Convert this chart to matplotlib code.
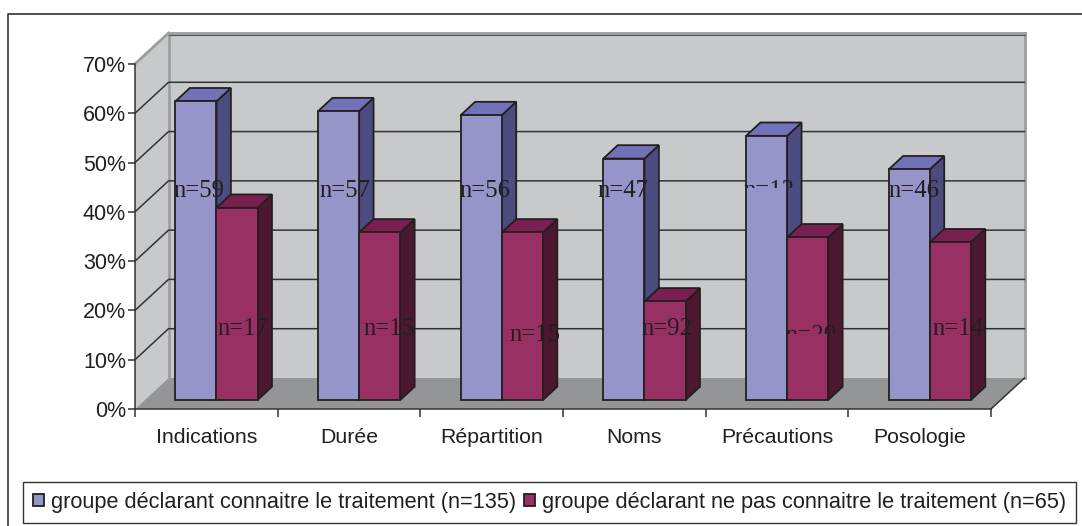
"""
Recreate the 3D-look clustered bar chart (groupe declarant connaitre le traitement).
"""

import matplotlib
matplotlib.use("Agg")
import matplotlib.pyplot as plt
from matplotlib.lines import Line2D
from matplotlib.patches import Patch, Polygon, Rectangle

# =============================================================================
# Data
# =============================================================================

categories = ['Indications', 'Durée', 'Répartition', 'Noms', 'Précautions', 'Posologie']
group_known = [60.6, 58.6, 57.8, 49, 53.6, 46.8]
group_unknown = [39, 34, 34, 20, 33, 32]
labels_known = ['n=59', 'n=57', 'n=56', 'n=47', 'n=12', 'n=46']
labels_unknown = ['n=17', 'n=15', 'n=15', 'n=92', 'n=20', 'n=14']
y_ticks = [0, 10, 20, 30, 40, 50, 60, 70]
legend_known = 'groupe déclarant connaitre le traitement (n=135)'
legend_unknown = 'groupe déclarant ne pas connaitre le traitement (n=65)'

# =============================================================================
# Styling / layout
# =============================================================================

W, H = 1082, 526
# axes box in image pixels (front edge of the floor and the 70% tick)
AX_LEFT, AX_RIGHT, AX_TOP, AX_BOTTOM = 135, 991, 64, 409
PX_X = (AX_RIGHT - AX_LEFT) / len(categories)
PX_Y = (AX_BOTTOM - AX_TOP) / 70

# full oblique depth of the box, in data units
DEPTH_X = 33.5 / PX_X
DEPTH_Y = 31 / PX_Y
# bars occupy this slice of the depth
BAR_D0, BAR_D1 = 0.29, 0.72
BAR_GAP = 0.215
BAR_W = 0.288

WALL = '#c8c9cb'
FLOOR = '#949597'
WALL_EDGE = '#9c9d9f'
DARK = '#231f20'
BLUE = ('#9595c9', '#7272b8', '#4c4c80')
RED = ('#993063', '#7a2050', '#4c1830')

# data label centres in pixels, and the row where a label gets cut off
LABEL_X_KNOWN = [199, 345, 485, 623, 769, 914]
LABEL_Y_KNOWN = [191, 191, 191, 191, 191, 191]
LABEL_X_UNKNOWN = [243, 389, 535, 667, 811, 958]
LABEL_Y_UNKNOWN = [329, 329, 335, 329, 336, 329]
CLIP_KNOWN = [None, None, None, None, 187.5, None]
CLIP_UNKNOWN = [None, None, None, None, 334, None]


def proj(x, y, d):
    """Data position pushed d (0 front, 1 back) into the box."""
    return (x + d * DEPTH_X, y + d * DEPTH_Y)


def px_to_data(px, py):
    return ((px - AX_LEFT) / PX_X, (AX_BOTTOM - py) / PX_Y)


def draw_bar(ax, x0, value, colors):
    x1 = x0 + BAR_W
    front = [proj(x0, 0, BAR_D0), proj(x1, 0, BAR_D0), proj(x1, value, BAR_D0), proj(x0, value, BAR_D0)]
    side = [proj(x1, 0, BAR_D0), proj(x1, 0, BAR_D1), proj(x1, value, BAR_D1), proj(x1, value, BAR_D0)]
    top = [proj(x0, value, BAR_D0), proj(x1, value, BAR_D0), proj(x1, value, BAR_D1), proj(x0, value, BAR_D1)]
    for pts, color in zip((side, top, front), (colors[2], colors[1], colors[0])):
        ax.add_patch(Polygon(pts, closed=True, facecolor=color, edgecolor=DARK,
                             linewidth=1.3, joinstyle='miter', clip_on=False, zorder=3))


def draw_label(ax, text, px, py, cut):
    x, y = px_to_data(px, py)
    t = ax.text(x, y, text, ha='center', va='center', fontsize=17.8,
                family='Liberation Serif', color=DARK, zorder=5, clip_on=False)
    if cut is not None:
        # the original picture loses the lower part of these labels
        _, y_cut = px_to_data(0, cut)
        t.set_clip_path(Rectangle((x - 1, y_cut), 2, 20, transform=ax.transData))
        t.set_clip_on(True)


def main():
    plt.rcParams['font.family'] = ['Liberation Sans', 'DejaVu Sans']

    fig = plt.figure(figsize=(W / 100, H / 100), dpi=100, facecolor='white')
    ax = fig.add_axes([AX_LEFT / W, 1 - AX_BOTTOM / H,
                       (AX_RIGHT - AX_LEFT) / W, (AX_BOTTOM - AX_TOP) / H])
    ax.set_xlim(0, len(categories))
    ax.set_ylim(0, 70)
    ax.patch.set_visible(False)

    n = len(categories)

    # Walls and floor
    ax.add_patch(Polygon([proj(0, 0, 0), proj(0, 0, 1), proj(0, 70, 1), proj(0, 70, 0)],
                         facecolor=WALL, edgecolor='none', clip_on=False, zorder=0))
    ax.add_patch(Polygon([proj(0, 0, 1), proj(n, 0, 1), proj(n, 70, 1), proj(0, 70, 1)],
                         facecolor=WALL, edgecolor='none', clip_on=False, zorder=0))
    ax.add_patch(Polygon([proj(0, 0, 0), proj(n, 0, 0), proj(n, 0, 1), proj(0, 0, 1)],
                         facecolor=FLOOR, edgecolor='none', clip_on=False, zorder=0))

    # Wall edges
    for a, b in [((0, 0, 1), (0, 70, 1)), ((n, 0, 1), (n, 70, 1)),
                 ((0, 70, 0), (0, 70, 1)), ((0, 70, 1), (n, 70, 1))]:
        pa, pb = proj(*a), proj(*b)
        ax.plot([pa[0], pb[0]], [pa[1], pb[1]], color=WALL_EDGE, lw=2,
                clip_on=False, zorder=1)

    # Grid on the left and back walls
    for tick in y_ticks[1:-1]:
        p0, p1, p2 = proj(0, tick, 0), proj(0, tick, 1), proj(n, tick, 1)
        ax.plot([p0[0], p1[0], p2[0]], [p0[1], p1[1], p2[1]], color='#333333', lw=1.1,
                clip_on=False, zorder=1)
    p0, p1 = proj(0, 70, 1), proj(n, 70, 1)
    ax.plot([p0[0], p1[0]], [p0[1] - 1.6 / PX_Y, p1[1] - 1.6 / PX_Y], color='#555555',
            lw=0.8, clip_on=False, zorder=1)

    # Floor diagonal on the right
    p0, p1 = proj(n, 0, 0), proj(n, 0, 1)
    ax.plot([p0[0], p1[0]], [p0[1], p1[1]], color='#333333', lw=1.1, clip_on=False, zorder=1)

    # Bars, left to right, blue behind red
    for i in range(n):
        draw_bar(ax, i + BAR_GAP, group_known[i], BLUE)
        draw_bar(ax, i + BAR_GAP + BAR_W, group_unknown[i], RED)

    # Data labels
    for i in range(n):
        draw_label(ax, labels_known[i], LABEL_X_KNOWN[i], LABEL_Y_KNOWN[i], CLIP_KNOWN[i])
        draw_label(ax, labels_unknown[i], LABEL_X_UNKNOWN[i], LABEL_Y_UNKNOWN[i], CLIP_UNKNOWN[i])

    # Axes
    for side in ('top', 'right'):
        ax.spines[side].set_visible(False)
    for side in ('left', 'bottom'):
        ax.spines[side].set_color('#333333')
        ax.spines[side].set_linewidth(1.1)
        ax.spines[side].set_zorder(2)

    ax.set_yticks(y_ticks)
    ax.set_yticklabels([f'{t}%' for t in y_ticks], fontsize=15.5, color=DARK)
    ax.set_xticks(range(n + 1))
    ax.set_xticklabels([''] * (n + 1))
    ax.set_xticks([i + 0.5 for i in range(n)], minor=True)
    ax.set_xticklabels(categories, minor=True, fontsize=15.3, color=DARK)
    ax.tick_params(axis='x', which='minor', length=0, pad=14)
    ax.tick_params(axis='x', which='major', length=6, width=1.1, color='#333333')
    ax.tick_params(axis='y', length=5, width=1.1, color='#333333', pad=1.5)

    # Outer frame, only top and left are in the picture
    fig.add_artist(Line2D([8 / W, 8 / W, 1], [0, 1 - 14 / H, 1 - 14 / H], color=DARK, lw=1.1))

    # Legend
    handles = [Patch(facecolor=BLUE[0], edgecolor=DARK, linewidth=1.3, label=legend_known),
               Patch(facecolor=RED[0], edgecolor=DARK, linewidth=1.3, label=legend_unknown)]
    fig.legend(handles=handles, loc='center', ncol=2, fontsize=15.7,
               bbox_to_anchor=(549.5 / W, 1 - 502.5 / H), fancybox=False, framealpha=1,
               edgecolor='#333333', handlelength=0.5, handleheight=0.5, handletextpad=0.3,
               columnspacing=0.4, borderpad=0.45, borderaxespad=0, labelcolor=DARK)

    fig.savefig('out.png', dpi=100, facecolor='white')
    plt.close('all')


if __name__ == "__main__":
    main()
